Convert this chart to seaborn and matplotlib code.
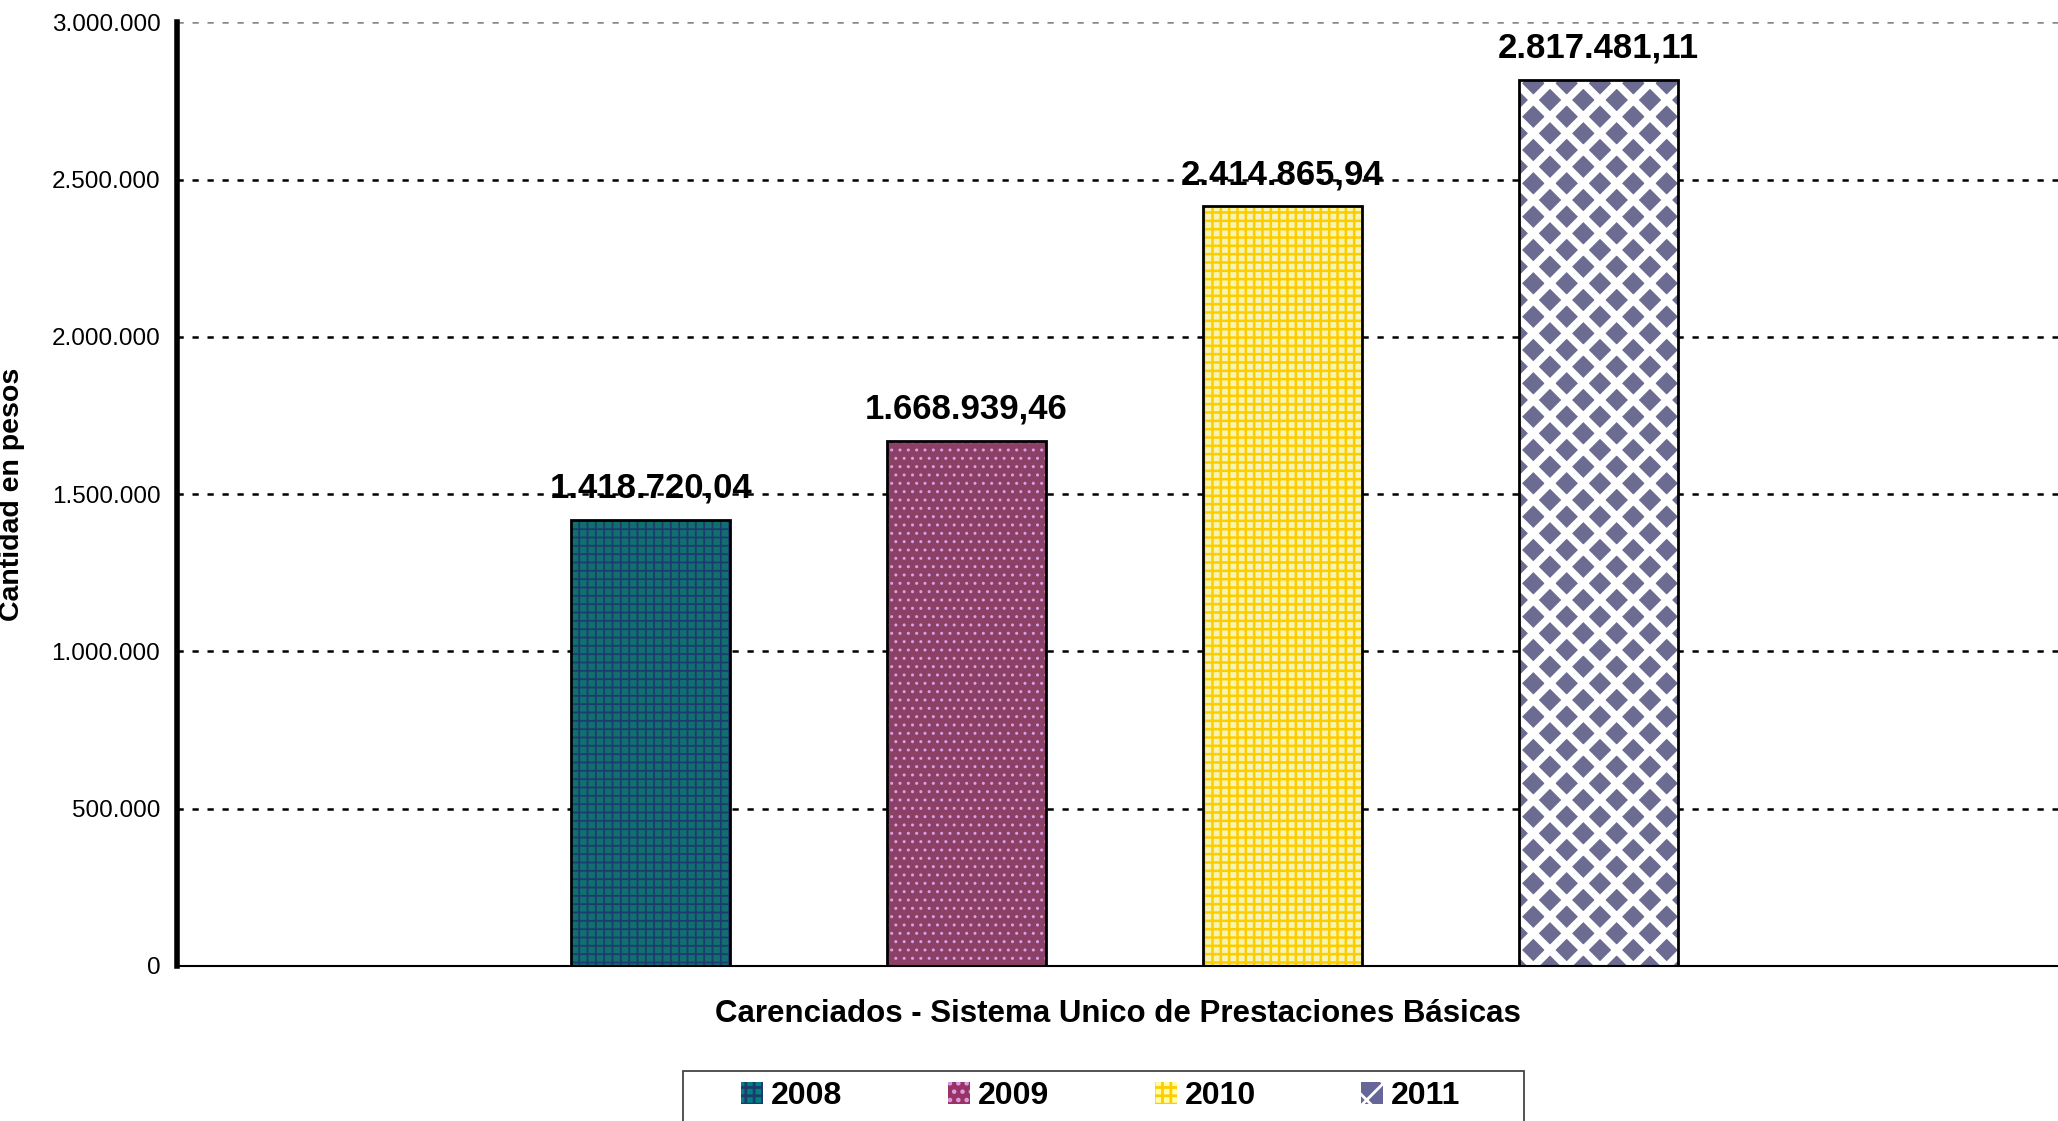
import numpy as np
import pandas as pd
import matplotlib
matplotlib.use("Agg")
import matplotlib.pyplot as plt
import matplotlib.patches as mpatches
import seaborn as sns

# data
categoria = "Carenciados - Sistema Unico de Prestaciones Básicas"
anios = ["2008", "2009", "2010", "2011"]
montos = [1418720.04, 1668939.46, 2414865.94, 2817481.11]
yticks = [0, 500000, 1000000, 1500000, 2000000, 2500000, 3000000]

# styling per year: fill, hatch colour, hatch
relleno = ["#008080", "#993366", "#FFFFAA", "#666699"]
color_trama = ["#1F3A6E", "#D9A0E6", "#FFCC00", "#FFFFFF"]
tramas = ["++", "..", "++", "x"]
grosor_trama = [1.3, 1.0, 1.8, 5.5]

sns.set_style("white")
plt.rcParams["font.family"] = ["Liberation Sans", "DejaVu Sans"]
plt.rcParams["text.color"] = "black"
plt.rcParams["axes.labelcolor"] = "black"
plt.rcParams["ytick.color"] = "black"
plt.rcParams["hatch.linewidth"] = 2.0

df = pd.DataFrame({"cat": [categoria] * 4, "anio": anios, "monto": montos})

fig = plt.figure(figsize=(20.58, 11.21), dpi=100)
ax = fig.add_axes([0.086, 0.1383, 0.914, 0.8417])

sns.barplot(data=df, x="cat", y="monto", hue="anio", palette=relleno,
            width=1.0, gap=0.497, legend=False, ax=ax, zorder=2)
bar_containers = list(ax.containers)
bars = [c.patches[0] for c in bar_containers]
for p, hc, h, hw in zip(bars, color_trama, tramas, grosor_trama):
    p.set_edgecolor(hc)
    p.set_hatch(h)
    p.set_linewidth(0)
    if hasattr(p, "set_hatch_linewidth"):
        p.set_hatch_linewidth(hw)

# black outlines on top
sns.barplot(data=df, x="cat", y="monto", hue="anio", palette=["black"] * 4,
            width=1.0, gap=0.497, fill=False, linewidth=2, legend=False,
            ax=ax, zorder=3)

def fmt_es(v):
    s = f"{v:,.2f}"
    return s.replace(",", "X").replace(".", ",").replace("X", ".")

for c, v in zip(bar_containers, montos):
    ax.bar_label(c, labels=[fmt_es(v)], padding=11, fontsize=25,
                 fontweight="bold", color="black")

ax.set_ylim(0, 3000000)
ax.set_xlim(-0.750, 0.739)
ax.set_yticks(yticks)
ax.set_yticklabels([f"{v:,}".replace(",", ".") for v in yticks], fontsize=17.5)
ax.tick_params(axis="y", length=0, pad=12)
ax.set_xticks([])
ax.set_xlabel(categoria, fontsize=22.5, fontweight="bold", labelpad=24)
ax.set_ylabel("Cantidad en pesos", fontsize=20.5, fontweight="bold")
ax.yaxis.set_label_coords(-0.0808, 0.5)

ax.yaxis.grid(True, color="black", linewidth=1.8, linestyle=(0, (2.5, 3.5)))
ax.set_axisbelow(True)
ax.get_ygridlines()[-1].set_color("#888888")

for s in ["top", "right"]:
    ax.spines[s].set_visible(False)
ax.spines["left"].set_linewidth(4)
ax.spines["left"].set_color("black")
ax.spines["bottom"].set_linewidth(1.5)
ax.spines["bottom"].set_color("black")

handles = []
for f, hc, h in zip(relleno, color_trama, tramas):
    try:
        hp = mpatches.Patch(facecolor=f, edgecolor="black", hatchcolor=hc,
                            hatch=h, linewidth=1.2)
    except Exception:
        hp = mpatches.Patch(facecolor=f, edgecolor=hc, hatch=h, linewidth=0)
    handles.append(hp)

leg = fig.legend(handles, anios, loc="upper left",
                 bbox_to_anchor=(741 / 2058, 1 - 1081 / 1121),
                 ncol=4, frameon=False,
                 prop={"weight": "bold", "size": 23},
                 handlelength=0.69, handleheight=0.69, handletextpad=0.25,
                 columnspacing=3.3, borderpad=0, borderaxespad=0)

# legend box, cut by the bottom edge like in the original
marco = mpatches.Rectangle((683 / 2058, -0.02), (1524 - 683) / 2058,
                           (1121 - 1071) / 1121 + 0.02, transform=fig.transFigure,
                           fill=False, edgecolor="#444444", linewidth=1.3)
fig.add_artist(marco)

fig.savefig("out.png", dpi=100)
